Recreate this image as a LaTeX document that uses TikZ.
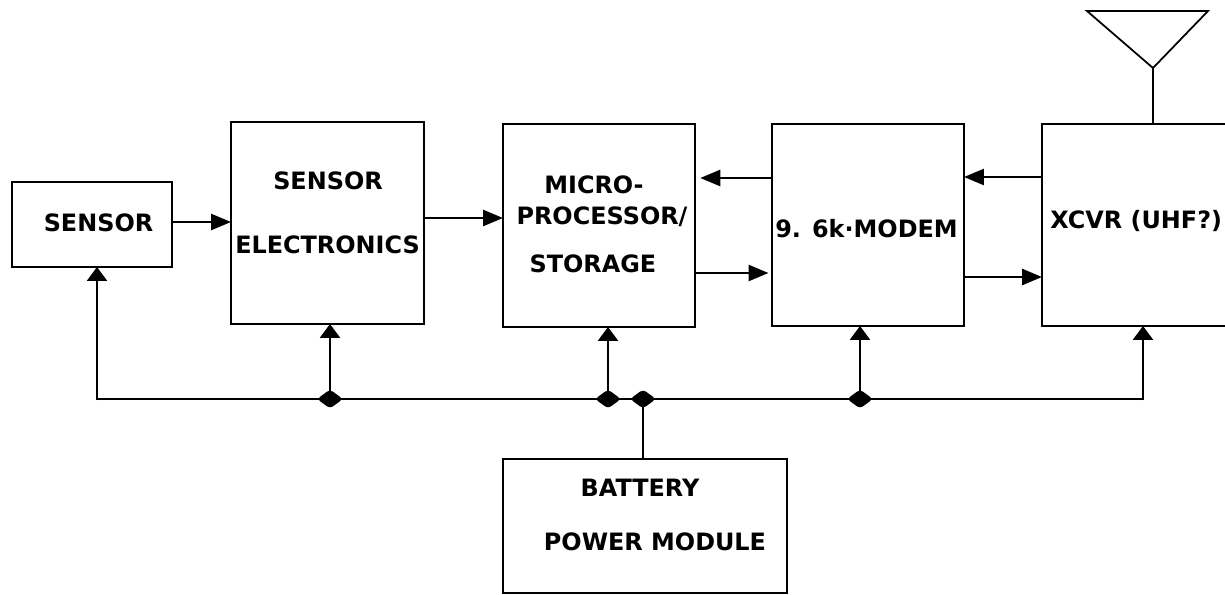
\documentclass[tikz,border=0pt]{standalone}
\usepackage{fontspec}
\setmainfont{DejaVu Sans}
\usetikzlibrary{arrows.meta,shapes.geometric}
\tikzset{
  blk/.style={draw, line width=1.5pt, inner sep=0pt, outer sep=0pt},
  lbl/.style={anchor=base, inner sep=0pt, font=\fontsize{13.6}{16}\selectfont\bfseries},
  wire/.style={line width=1.5pt},
  harr/.style={wire, -{Triangle[length=0.40cm, width=0.32cm]}},
  varr/.style={wire, -{Triangle[length=0.28cm, width=0.40cm]}},
  junc/.style={shape=diamond, fill, inner sep=0pt, outer sep=0pt,
    minimum width=0.52cm, minimum height=0.38cm, rounded corners=2pt}
}
\begin{document}
\begin{tikzpicture}[x=0.02cm, y=-0.02cm]
  \useasboundingbox (0,0) rectangle (1225,595);
  \fill[white] (0,0) rectangle (1225,595);
  \clip (0,0) rectangle (1225,595);

  % blocks
  \node[blk, minimum width=3.20cm, minimum height=1.70cm] (sensor) at (92,224.5) {};
  \node[blk, minimum width=3.86cm, minimum height=4.04cm] (selec)  at (327.5,223) {};
  \node[blk, minimum width=3.84cm, minimum height=4.06cm] (micro)  at (599,225.5) {};
  \node[blk, minimum width=3.84cm, minimum height=4.04cm] (modem)  at (868,225) {};
  \node[blk, minimum width=4.36cm, minimum height=4.04cm] (xcvr)   at (1151,225) {};
  \node[blk, minimum width=5.68cm, minimum height=2.68cm] (batt)   at (645,526) {};

  % block labels
  \node[lbl] (tsensor) at (98.5,231.5) {SENSOR};
  \node[lbl] (tse1) at (328,189.5) {SENSOR};
  \node[lbl] (tse2) at (327.5,253.5) {ELECTRONICS};
  \node[lbl] (tmp1) at (594,193.5) {MICRO-};
  \node[lbl] (tmp2) at (602,224.5) {PROCESSOR/};
  \node[lbl] (tmp3) at (593,272.5) {STORAGE};
  \node[lbl] (tmodem) at (866.5,237.5) {9. 6k·MODEM};
  \node[lbl, anchor=base west] (txcvr) at (1050,228.5) {XCVR (UHF?)};
  \node[lbl] (tbat1) at (640,496.5) {BATTERY};
  \node[lbl] (tbat2) at (655,550.5) {POWER MODULE};

  % signal path
  \draw[harr] (sensor.east |- 0,222) -- (selec.west |- 0,222);
  \draw[harr] (selec.east |- 0,218) -- (micro.west |- 0,218);
  \draw[harr] (modem.west |- 0,178) -- ([xshift=3pt]micro.east |- 0,178);
  \draw[harr] (micro.east |- 0,273) -- ([xshift=-2pt]modem.west |- 0,273);
  \draw[harr] (xcvr.west |- 0,177) -- (modem.east |- 0,177);
  \draw[harr] (modem.east |- 0,277) -- (xcvr.west |- 0,277);

  % antenna
  \coordinate (ant1) at (1087,11);
  \coordinate (ant2) at (1208,11);
  \coordinate (antp) at (1153,68);
  \draw[line width=1pt, line join=miter] (ant1) -- (ant2) -- (antp) -- cycle;
  \draw[wire] (antp) -- (xcvr.north -| antp);

  % power bus
  \coordinate (busl) at (97,399);
  \coordinate (busr) at (1143,399);
  \node[junc] (j1) at (330,399) {};
  \node[junc] (j2) at (608,399) {};
  \node[junc] (j3) at (643,399) {};
  \node[junc] (j4) at (860,399) {};
  \draw[wire] (busl) -- (busr);
  \draw[varr] ([yshift=-0.75pt]busl) -- (sensor.south -| busl);
  \draw[varr] (j1.center) -- (selec.south -| j1);
  \draw[varr] (j2.center) -- (micro.south -| j2);
  \draw[varr] (j4.center) -- (modem.south -| j4);
  \draw[varr] ([yshift=-0.75pt]busr) -- (xcvr.south -| busr);
  \draw[wire] (batt.north -| j3) -- (j3.center);
\end{tikzpicture}
\end{document}
